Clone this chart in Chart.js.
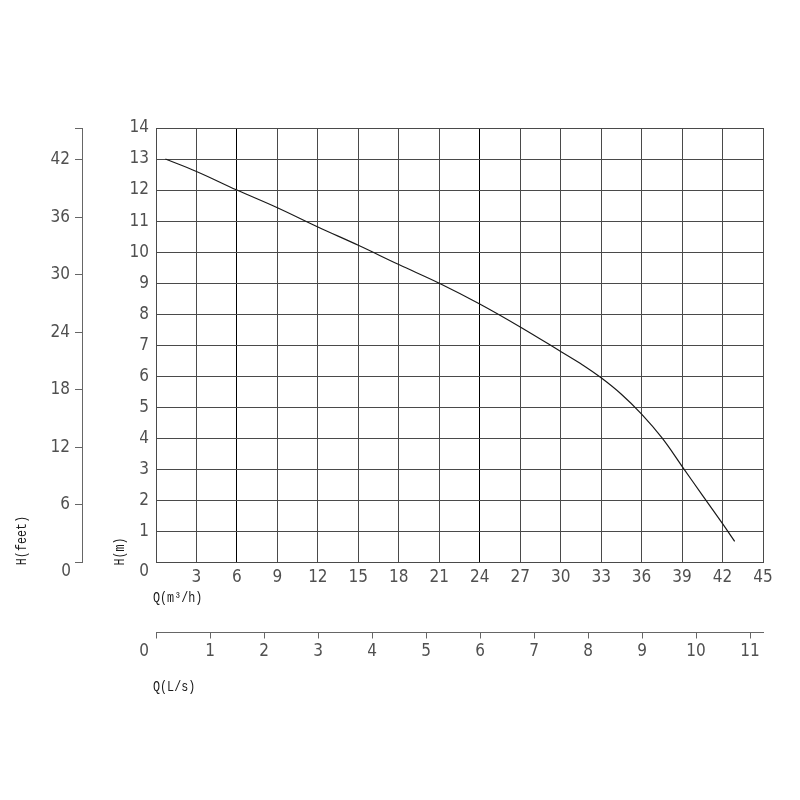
<!DOCTYPE html>
<html>
<head>
<meta charset="utf-8">
<script src="https://cdn.jsdelivr.net/npm/chart.js@4"></script>
<style>
  body { margin: 0; background: #fff; }
  canvas { display: block; }
</style>
</head>
<body>
<canvas id="pumpChart" width="800" height="800"></canvas>
<script>
// pump curve
const flowM3h = [0.7, 3, 6, 9, 12, 15, 18, 21, 24, 27, 30, 31.5, 33, 34.5, 36, 37.5, 39, 40.5, 42, 42.9];
const headM = [13.0, 12.6, 12.0, 11.43, 10.81, 10.22, 9.6, 9.0, 8.33, 7.59, 6.8, 6.4, 5.95, 5.42, 4.78, 4.02, 3.1, 2.17, 1.25, 0.68];

const flowMax = 45;
const flowLsTicks = [0, 1, 2, 3, 4, 5, 6, 7, 8, 9, 10, 11];
const flowLsMax = 11.24;
const headMax = 14;
const headFtTicks = [0, 6, 12, 18, 24, 30, 36, 42];
const headFtMax = 45.3;

const tickFont = { family: '"Liberation Sans Narrow", "DejaVu Sans Condensed", "Liberation Sans", sans-serif', size: 17 };
const titleFont = '14px "Liberation Mono", "DejaVu Sans Mono", monospace';
const inkColor = "#505050";

function hideZero(v) {
  return v === 0 ? "" : v;
}

function fixSize(prop, size) {
  return (s) => {
    s[prop] = size;
    s.paddingLeft = 0;
    s.paddingRight = 0;
    s.paddingTop = 0;
    s.paddingBottom = 0;
  };
}

function drawTitle(ctx, text, x, y, angle) {
  ctx.save();
  ctx.translate(x, y);
  ctx.rotate(angle);
  ctx.scale(0.84, 1);
  ctx.fillText(text, 0, 0);
  ctx.restore();
}

const labelsPlugin = {
  id: "labels",
  afterDraw(chart) {
    const { ctx, scales } = chart;
    const x0 = scales.x.getPixelForValue(0);
    const y0 = scales.y.getPixelForValue(0);
    ctx.save();
    // zero labels sit below the corner in the drawing
    ctx.font = `${tickFont.size}px ${tickFont.family}`;
    ctx.fillStyle = inkColor;
    ctx.textAlign = "center";
    ctx.textBaseline = "middle";
    ctx.fillText("0", x0 - 12, y0 + 9);
    ctx.fillText("0", scales.yFt.right - 16, scales.yFt.getPixelForValue(0) + 9);
    ctx.fillText("0", scales.xLs.getPixelForValue(0) - 12, scales.xLs.top + 19);

    ctx.font = titleFont;
    ctx.fillStyle = "#1a1a1a";
    ctx.textAlign = "left";
    drawTitle(ctx, "Q(m³/h)", x0 - 3, y0 + 36, 0);
    drawTitle(ctx, "Q(L/s)", x0 - 3, scales.xLs.top + 55, 0);
    ctx.textAlign = "center";
    drawTitle(ctx, "H(m)", 120, y0 - 11, -Math.PI / 2);
    drawTitle(ctx, "H(feet)", 22, y0 - 22, -Math.PI / 2);
    ctx.restore();
  },
};

new Chart(document.getElementById("pumpChart"), {
  type: "scatter",
  data: {
    datasets: [
      {
        data: flowM3h.map((q, i) => ({ x: q, y: headM[i] })),
        showLine: true,
        borderColor: "#1a1a1a",
        borderWidth: 1.2,
        pointRadius: 0,
        tension: 0.4,
        xAxisID: "x",
        yAxisID: "y",
      },
    ],
  },
  options: {
    responsive: false,
    animation: false,
    layout: { padding: { left: 10, right: 37, top: 128, bottom: 127.5 } },
    plugins: { legend: { display: false }, tooltip: { enabled: false } },
    scales: {
      x: {
        type: "linear",
        position: "bottom",
        weight: 0,
        min: 0,
        max: flowMax,
        ticks: { stepSize: 3, autoSkip: false, maxRotation: 0, padding: 5, color: inkColor, font: tickFont, callback: hideZero },
        grid: {
          drawTicks: false,
          lineWidth: 1,
          color: (c) => (c.tick && (c.tick.value === 6 || c.tick.value === 24) ? "#000" : "#4a4a4a"),
        },
        border: { color: "#4a4a4a" },
        afterFit: fixSize("height", 70),
      },
      xLs: {
        type: "linear",
        position: "bottom",
        weight: 1,
        min: 0,
        max: flowLsMax,
        afterBuildTicks: (s) => {
          s.ticks = flowLsTicks.map((v) => ({ value: v }));
        },
        ticks: { autoSkip: false, maxRotation: 0, padding: 3, color: inkColor, font: tickFont, callback: hideZero },
        grid: { drawOnChartArea: false, tickLength: 6, color: "#666" },
        border: { color: "#666" },
        afterFit: fixSize("height", 40),
      },
      y: {
        type: "linear",
        position: "left",
        weight: 0,
        min: 0,
        max: headMax,
        ticks: { stepSize: 1, autoSkip: false, padding: 7, color: inkColor, font: tickFont, callback: hideZero },
        grid: { drawTicks: false, lineWidth: 1, color: "#4a4a4a" },
        border: { color: "#4a4a4a" },
        afterFit: fixSize("width", 74),
      },
      yFt: {
        type: "linear",
        position: "left",
        weight: 1,
        min: 0,
        max: headFtMax,
        afterBuildTicks: (s) => {
          s.ticks = headFtTicks.concat([headFtMax]).map((v) => ({ value: v }));
        },
        ticks: {
          autoSkip: false,
          padding: 5,
          color: inkColor,
          font: tickFont,
          callback: (v) => (v === 0 || v === headFtMax ? "" : v),
        },
        grid: { drawOnChartArea: false, tickLength: 7, color: "#666" },
        border: { color: "#666" },
        afterFit: fixSize("width", 72),
      },
    },
  },
  plugins: [labelsPlugin],
});
</script>
</body>
</html>
